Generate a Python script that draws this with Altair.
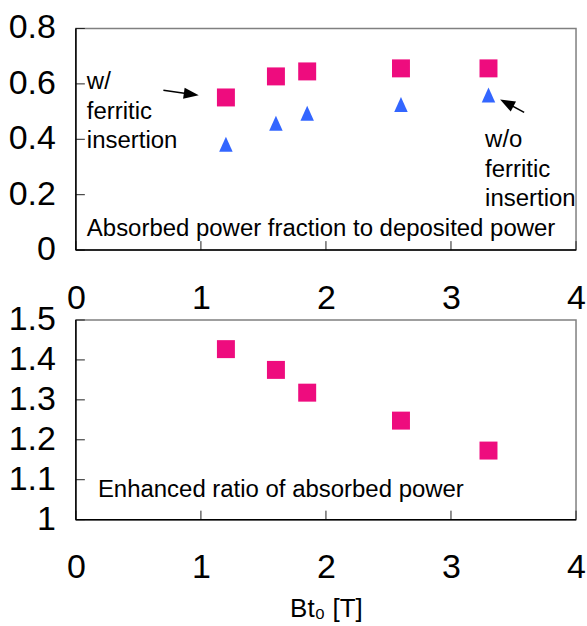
import altair as alt
import pandas as pd

# ---- data ----
bt = [1.2, 1.6, 1.85, 2.6, 3.3]
with_ferritic = [0.551, 0.627, 0.645, 0.656, 0.656]
without_ferritic = [0.382, 0.458, 0.494, 0.526, 0.560]
enhanced_ratio = [1.427, 1.375, 1.318, 1.248, 1.173]

x_ticks = [0, 1, 2, 3, 4]
top_y_ticks = [0, 0.2, 0.4, 0.6, 0.8]
top_y_labels = ["0", "0.2", "0.4", "0.6", "0.8"]
bottom_y_ticks = [1, 1.1, 1.2, 1.3, 1.4, 1.5]
bottom_y_labels = ["1", "1.1", "1.2", "1.3", "1.4", "1.5"]

top_notes_text = ["w/\nferritic\ninsertion", "w/o\nferritic\ninsertion",
                  "Absorbed power fraction to deposited power"]
top_notes_x = [0.088, 3.273, 0.088]
top_notes_y = [0.580, 0.371, 0.050]

bottom_note_text = ["Enhanced ratio of absorbed power"]
bottom_note_x = [0.176]
bottom_note_y = [1.0575]

arrow_tail_x = [0.70, 3.585]
arrow_tail_y = [0.577, 0.497]
arrow_head_x = [0.923, 3.446]
arrow_head_y = [0.5625, 0.531]
arrow_angle = [98, 298]

# ---- styling ----
FONT = "Liberation Sans"
PINK = "#EE0C7E"
BLUE = "#3366FF"
W = 501
H_TOP = 222
H_BOT = 200
TICK_LEN = 9
TRI = "M0,-1L0.9,1L-0.9,1Z"
HEAD = "M0,-1L0.75,1L-0.75,1Z"

xscale = alt.Scale(domain=[0, 4], nice=False, zero=False)


def x_axis(title=None):
    kw = dict(values=x_ticks, labelFontSize=34, labelFont=FONT, labelColor="black",
              ticks=False, domain=False, grid=False, labelPadding=31, labelFlush=False,
              labelAngle=0, format="~g", labelOverlap=False)
    if title:
        kw.update(title=title, titleFont=FONT, titleFontSize=26, titleFontWeight="normal",
                  titleColor="black", titlePadding=11)
    else:
        kw.update(title=None)
    return alt.Axis(**kw)


def frame_ticks_labels(yvals, ylabels, yscale, h):
    df_y = pd.DataFrame({"v": yvals, "lab": ylabels})
    ytick = alt.Chart(df_y).mark_rule(color="#222", strokeWidth=1).encode(
        y=alt.Y("v:Q", scale=yscale, axis=None),
        x=alt.value(0), x2=alt.value(TICK_LEN))
    ylab = alt.Chart(df_y).mark_text(align="right", baseline="middle", fontSize=34,
                                     font=FONT, color="black").encode(
        y=alt.Y("v:Q", scale=yscale, axis=None),
        x=alt.value(-20), text="lab:N")
    xtick = alt.Chart(pd.DataFrame({"v": x_ticks})).mark_rule(color="#222", strokeWidth=1).encode(
        x=alt.X("v:Q", scale=xscale),
        y=alt.value(h), y2=alt.value(h - TICK_LEN))
    one = pd.DataFrame({"a": [0]})
    left = alt.Chart(one).mark_rule(color="black", strokeWidth=1.5).encode(
        x=alt.value(0), y=alt.value(0), y2=alt.value(h))
    bottom = alt.Chart(one).mark_rule(color="black", strokeWidth=1.5).encode(
        x=alt.value(0), x2=alt.value(W), y=alt.value(h))
    return [ytick, xtick, ylab, left, bottom]


# ---- top panel ----
top_y = alt.Scale(domain=[0, 0.8], nice=False, zero=False)
df_top = pd.DataFrame({"bt": bt, "with": with_ferritic, "without": without_ferritic})

sq_top = alt.Chart(df_top).mark_point(shape="square", filled=True, size=324, opacity=1,
                                      color=PINK, strokeWidth=0).encode(
    x=alt.X("bt:Q", scale=xscale, axis=x_axis()),
    y=alt.Y("with:Q", scale=top_y, axis=None))
tri_top = alt.Chart(df_top).mark_point(shape=TRI, filled=True, size=225, opacity=1,
                                       color=BLUE, strokeWidth=0).encode(
    x=alt.X("bt:Q", scale=xscale),
    y=alt.Y("without:Q", scale=top_y, axis=None))

notes_top = alt.Chart(pd.DataFrame({"x": top_notes_x, "y": top_notes_y, "t": top_notes_text})).mark_text(
    align="left", baseline="alphabetic", fontSize=24, font=FONT, color="black",
    lineBreak="\n", lineHeight=29.5).encode(
    x=alt.X("x:Q", scale=xscale), y=alt.Y("y:Q", scale=top_y, axis=None), text="t:N")

df_arrow = pd.DataFrame({"x": arrow_tail_x, "y": arrow_tail_y, "x2": arrow_head_x,
                         "y2": arrow_head_y, "ang": arrow_angle})
arrow_line = alt.Chart(df_arrow).mark_rule(color="black", strokeWidth=1.6).encode(
    x=alt.X("x:Q", scale=xscale), y=alt.Y("y:Q", scale=top_y, axis=None), x2="x2:Q", y2="y2:Q")
arrow_head = alt.Chart(df_arrow).mark_point(shape=HEAD, filled=True, size=225, opacity=1,
                                            color="black", strokeWidth=0).encode(
    x=alt.X("x2:Q", scale=xscale), y=alt.Y("y2:Q", scale=top_y, axis=None),
    angle=alt.Angle("ang:Q", scale=None))

top_parts = frame_ticks_labels(top_y_ticks, top_y_labels, top_y, H_TOP)
top = alt.layer(sq_top, *top_parts[:3],
                tri_top, notes_top, arrow_line, arrow_head,
                *top_parts[3:]).properties(width=W, height=H_TOP)

# ---- bottom panel ----
bot_y = alt.Scale(domain=[1, 1.5], nice=False, zero=False)
df_bot = pd.DataFrame({"bt": bt, "ratio": enhanced_ratio})
sq_bot = alt.Chart(df_bot).mark_point(shape="square", filled=True, size=324, opacity=1,
                                      color=PINK, strokeWidth=0).encode(
    x=alt.X("bt:Q", scale=xscale, axis=x_axis("Bt₀ [T]")),
    y=alt.Y("ratio:Q", scale=bot_y, axis=None))
notes_bot = alt.Chart(pd.DataFrame({"x": bottom_note_x, "y": bottom_note_y, "t": bottom_note_text})).mark_text(
    align="left", baseline="alphabetic", fontSize=24, font=FONT, color="black").encode(
    x=alt.X("x:Q", scale=xscale), y=alt.Y("y:Q", scale=bot_y, axis=None), text="t:N")

bot_parts = frame_ticks_labels(bottom_y_ticks, bottom_y_labels, bot_y, H_BOT)
bottom = alt.layer(sq_bot, *bot_parts, notes_bot).properties(width=W, height=H_BOT)

chart = alt.vconcat(top, bottom, spacing=70, bounds="flush").properties(
    padding={"left": 7, "top": 10, "right": 0, "bottom": 0},
    background="white",
).configure_view(
    stroke="#808080", strokeWidth=1.5
)

chart.save("out.html", embed_options={"renderer": "svg", "actions": False})
